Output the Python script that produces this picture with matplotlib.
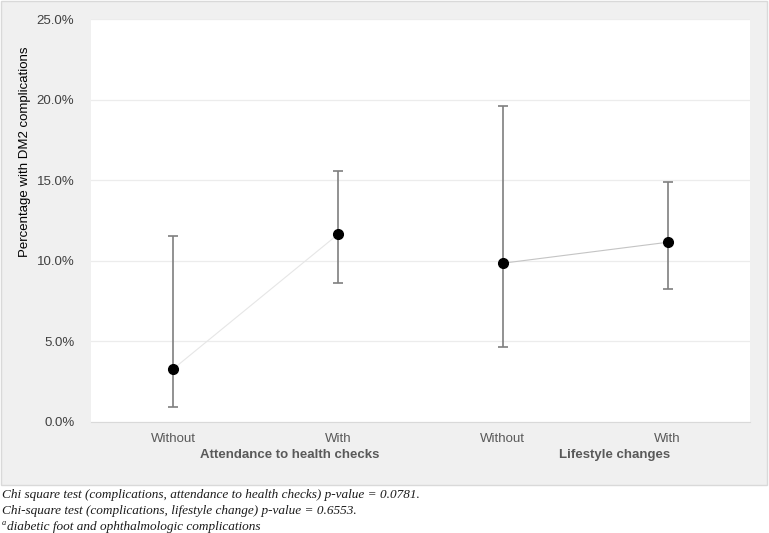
import matplotlib
matplotlib.use("Agg")
import matplotlib.pyplot as plt
from matplotlib.patches import Rectangle
from matplotlib.ticker import PercentFormatter

plt.rcParams["font.family"] = ["Liberation Sans", "DejaVu Sans"]

# data (percent)
categorias = ["Without", "With", "Without", "With"]
grupos = ["Attendance to health checks", "Lifestyle changes"]
valores = [3.3, 11.65, 9.85, 11.15]
ic_inferior = [0.9, 8.65, 4.65, 8.25]
ic_superior = [11.55, 15.6, 19.6, 14.9]
notas = [
    "Chi square test (complications, attendance to health checks) p-value = 0.0781.",
    "Chi-square test (complications, lifestyle change) p-value = 0.6553.",
]
nota_a = "diabetic foot and ophthalmologic complications"

fig = plt.figure(figsize=(7.69, 5.33), dpi=100)

# panel gris de fondo
W, H = 769, 533
fondo = Rectangle((0.5 / W, 1 - 485 / H), 766 / W, 484 / H, transform=fig.transFigure,
                  facecolor="#f0f0f0", edgecolor="#d9d9d9", linewidth=1.0, zorder=-10)
fig.add_artist(fondo)

ax = fig.add_axes([91 / W, 1 - 422 / H, 659 / W, 403 / H])
ax.set_zorder(1)
ax.set_facecolor("white")
x = list(range(len(valores)))

# lineas que unen cada grupo
ax.plot(x[0:2], valores[0:2], color="#e6e6e6", linewidth=0.8, zorder=2)
ax.plot(x[2:4], valores[2:4], color="#c4c4c4", linewidth=0.8, zorder=2)

err_low = [v - l for v, l in zip(valores, ic_inferior)]
err_high = [u - v for v, u in zip(valores, ic_superior)]
ax.errorbar(x, valores, yerr=[err_low, err_high], fmt="none", ecolor="#7f7f7f",
            elinewidth=1.2, capsize=3.5, capthick=1.2, zorder=3)
ax.plot(x, valores, "o", color="black", markersize=7, linestyle="none", zorder=4)

ax.set_xlim(-0.5, 3.5)
ax.set_ylim(0, 25)
ax.set_yticks([0, 5, 10, 15, 20, 25])
ax.yaxis.set_major_formatter(PercentFormatter(decimals=1))
ax.grid(axis="y", color="#ececec", linewidth=0.9)
ax.set_axisbelow(True)
for s in ["top", "right", "left"]:
    ax.spines[s].set_visible(False)
ax.spines["bottom"].set_color("#d9d9d9")
ax.tick_params(axis="both", length=0, labelsize=9.5)
ax.tick_params(axis="y", colors="#404040", pad=12)
ax.tick_params(axis="x", colors="#595959", pad=8)
ax.set_xticks(x)
ax.set_xticklabels(categorias)
ax.set_ylabel("Percentage with DM2 complications", fontsize=9.5, color="black")
# la etiqueta esta mas arriba que el centro del eje
ax.yaxis.set_label_coords((31 - 91) / 659, (422 - 152) / 403)

# etiquetas de grupo
fig.text(290 / W, 1 - 455 / H, grupos[0], ha="center", va="center",
         fontsize=9.5, fontweight="bold", color="#595959")
fig.text(615 / W, 1 - 455 / H, grupos[1], ha="center", va="center",
         fontsize=9.5, fontweight="bold", color="#595959")

# notas al pie
serif = dict(family="Liberation Serif", style="italic", fontsize=9.5, color="#1a1a1a")
fig.text(2 / W, 1 - 495 / H, notas[0], va="center", ha="left", **serif)
fig.text(2 / W, 1 - 511 / H, notas[1], va="center", ha="left", **serif)
fig.text(2 / W, 1 - 523 / H, "a", va="center", ha="left", family="Liberation Serif",
         style="italic", fontsize=6, color="#1a1a1a")
fig.text(7 / W, 1 - 527 / H, nota_a, va="center", ha="left", **serif)

fig.savefig("out.png", dpi=100)
